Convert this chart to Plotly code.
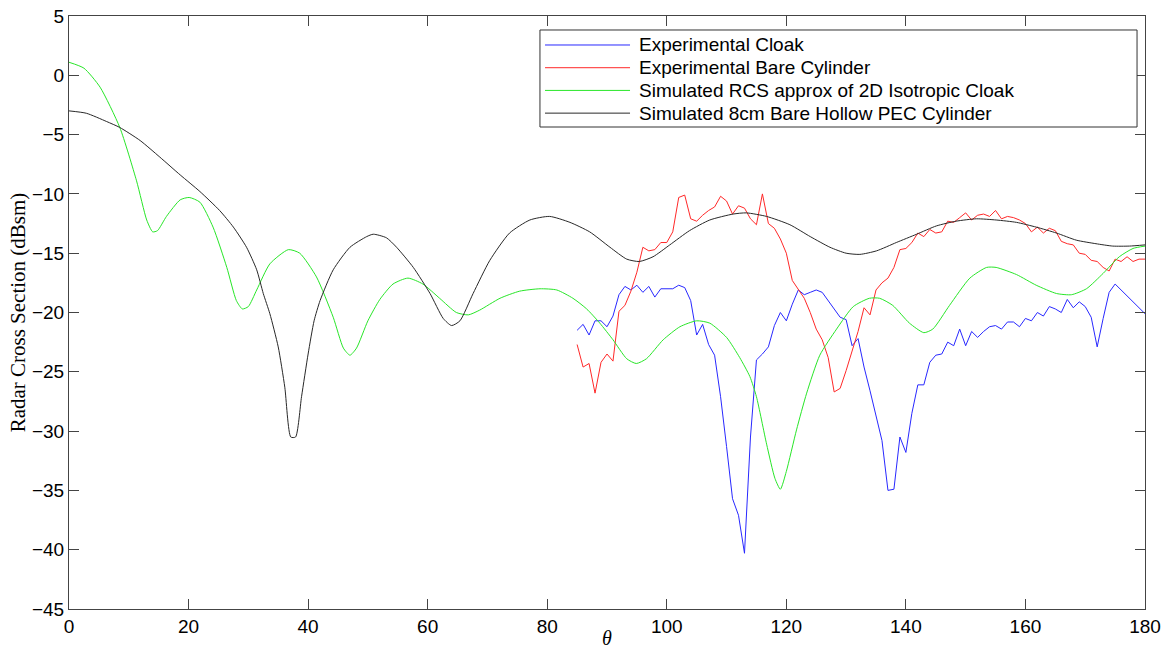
import plotly.graph_objects as go

# ---------------- data ----------------
exp_theta = list(range(85, 181))

exp_bare = [-22.7, -24.6, -24.3, -26.8, -24.2, -23.5, -24.1, -19.9, -19.4, -18.2,
            -16.6, -14.5, -14.8, -14.7, -14.1, -14.1, -13.2, -10.3, -10.1, -12.1,
            -12.3, -11.8, -11.4, -11.1, -10.2, -10.6, -11.7, -11.0, -11.2, -12.1,
            -12.6, -10.0, -12.5, -12.9, -13.8, -15.0, -17.3, -18.0, -18.8, -20.0,
            -21.4, -22.3, -23.8, -26.7, -26.4, -24.9, -23.3, -21.6, -19.6, -20.2,
            -18.1, -17.5, -17.1, -16.2, -14.7, -14.6, -14.1, -13.3, -13.6, -13.0,
            -13.3, -13.2, -12.3, -12.4, -12.0, -11.6, -12.2, -11.8, -11.7, -11.9,
            -11.4, -12.1, -11.9, -12.0, -12.2, -12.5, -13.2, -12.8, -13.3, -12.9,
            -13.1, -14.0, -14.2, -14.3, -15.0, -15.1, -15.6, -15.7, -16.2, -16.5,
            -15.5, -15.7, -15.3, -15.7, -15.5, -15.5]

cloak_theta = list(range(85, 177)) + [180]
exp_cloak = [-21.5, -21.0, -21.9, -20.7, -20.7, -21.2, -20.3, -18.5, -17.8, -18.1,
             -17.7, -18.3, -17.8, -18.7, -18.0, -18.0, -18.0, -17.7, -17.9, -19.0,
             -21.9, -21.0, -22.7, -23.6, -27.1, -31.3, -35.7, -37.1, -40.3, -30.5,
             -24.0, -23.5, -22.9, -21.1, -20.0, -20.7, -19.3, -18.1, -18.5, -18.3,
             -18.1, -18.3, -19.0, -19.7, -20.4, -20.6, -22.8, -22.2, -24.6, -26.6,
             -28.8, -30.8, -35.0, -34.9, -30.5, -31.8, -28.5, -26.1, -26.1, -24.2,
             -23.6, -23.5, -22.5, -22.8, -21.4, -22.8, -21.6, -22.1, -21.6, -21.2,
             -21.1, -21.4, -20.8, -20.8, -21.2, -20.5, -20.7, -20.0, -20.3, -19.5,
             -19.7, -20.0, -18.9, -19.6, -19.1, -19.5, -20.4, -22.9, -20.5, -18.3,
             -17.6, -18.1, -20.1]

sim_cloak_theta = [0, 2.5, 5.2, 8.5, 11.3, 13, 14, 14.8, 16.3, 18.6, 20.1, 21.9, 24.1,
                   26.4, 28, 29, 30, 31.4, 33.6, 36.7, 38.6, 41.4, 44.2, 45.9, 47, 48.1,
                   50, 52, 54.2, 56.7, 59.2, 62, 64.8, 66.8, 68.7, 72.1, 75.4, 78.8,
                   81.6, 84.3, 86.6, 88.8, 91, 93.3, 94.9, 96.6, 99.4, 102.2, 105,
                   107.2, 110, 112.2, 113.9, 115, 116.7, 118.1, 119, 120, 121.7, 123.4,
                   125.6, 128.4, 131.2, 133.9, 135.6, 137.8, 140.6, 143, 144.5, 147.3,
                   150.7, 153.5, 155.1, 158.5, 161.8, 165.2, 167.7, 170.2, 173, 175.7,
                   178, 180]
sim_cloak = [1.1, 0.6, -1.0, -4.4, -8.9, -12.2, -13.2, -13.1, -11.9, -10.5, -10.3, -10.7,
             -12.8, -16.2, -19.0, -19.7, -19.5, -18.1, -15.9, -14.7, -15.0, -17.0, -20.4,
             -23.0, -23.6, -23.0, -20.7, -18.9, -17.6, -17.1, -17.6, -18.8, -20.0, -20.2,
             -19.8, -18.8, -18.2, -18.0, -18.1, -18.8, -19.7, -20.9, -22.3, -23.9, -24.3,
             -23.9, -22.3, -21.2, -20.7, -20.9, -22.1, -23.8, -25.4, -27.1, -31.1, -34.0,
             -34.9, -33.4, -29.9, -26.8, -23.6, -21.4, -19.5, -18.8, -18.8, -19.4, -20.9,
             -21.7, -21.4, -19.4, -17.1, -16.2, -16.2, -16.8, -17.7, -18.4, -18.5, -18.0,
             -16.7, -15.3, -14.6, -14.4]

sim_pec_theta = [0, 2.9, 6.3, 8.5, 11.9, 15.2, 18.6, 21.9, 25.2, 27.5, 29.7, 31.4, 32.5,
                 33.6, 35, 36.1, 37.1, 37.9, 38.9, 40, 41, 42, 44.2, 47, 49.8, 50.9,
                 53.1, 54.8, 57.6, 60.4, 62.6, 64, 65.4, 67.6, 70.4, 73.7, 77.1, 80.4,
                 83.8, 87.1, 90.5, 93.3, 95.4, 97.7, 100.5, 103.8, 107.2, 111.1, 113.3,
                 116.7, 120.6, 124, 127.3, 130, 132.3, 135.1, 138.4, 141.8, 145.1,
                 148.4, 151.8, 155.1, 158.5, 161.8, 165.2, 168.5, 171.8, 174.6, 177.4, 180]
sim_pec = [-3.0, -3.2, -3.9, -4.4, -5.5, -6.9, -8.4, -9.8, -11.4, -12.8, -14.5, -16.4,
           -18.4, -20.1, -22.9, -26.3, -30.5, -30.5, -27.1, -23.5, -20.7, -19.0, -16.4,
           -14.5, -13.6, -13.4, -13.7, -14.5, -16.2, -18.4, -20.5, -21.1, -20.7, -18.4,
           -15.6, -13.3, -12.2, -11.9, -12.4, -13.2, -14.5, -15.5, -15.7, -15.3, -14.3,
           -13.1, -12.2, -11.7, -11.6, -11.9, -12.6, -13.6, -14.5, -15.0, -15.1, -14.8,
           -14.1, -13.4, -12.7, -12.3, -12.1, -12.2, -12.4, -12.8, -13.3, -13.9, -14.2,
           -14.4, -14.4, -14.3]

series_names = ["Experimental Cloak", "Experimental Bare Cylinder",
                "Simulated RCS approx of 2D Isotropic Cloak",
                "Simulated 8cm Bare Hollow PEC Cylinder"]
series_colors = ["rgb(40,40,255)", "rgb(255,40,40)", "rgb(40,230,40)", "rgb(40,40,40)"]

x_ticks = [0, 20, 40, 60, 80, 100, 120, 140, 160, 180]
y_ticks = [5, 0, -5, -10, -15, -20, -25, -30, -35, -40, -45]

# ---------------- figure ----------------
fig = go.Figure()
series = [(cloak_theta, exp_cloak, "linear"), (exp_theta, exp_bare, "linear"),
          (sim_cloak_theta, sim_cloak, "spline"), (sim_pec_theta, sim_pec, "spline")]
for (xs, ys, shp), name, col in zip(series, series_names, series_colors):
    line = dict(color=col, width=1, shape=shp)
    if shp == "spline":
        line["smoothing"] = 0.6
    fig.add_trace(go.Scatter(x=xs, y=ys, mode="lines", name=name, line=line,
                             showlegend=False))

axis_common = dict(
    showgrid=False, zeroline=False, showline=True, linecolor="#444", linewidth=1,
    mirror="allticks", ticks="inside", ticklen=10, tickcolor="#444", tickwidth=1,
    automargin=False, ticklabeloverflow="allow",
    tickfont=dict(family="Liberation Sans, Arial, sans-serif", size=19, color="black"),
)

fig.update_xaxes(range=[0, 180], tickmode="array", tickvals=x_ticks, **axis_common)
fig.update_yaxes(range=[-45, 5], tickmode="array", tickvals=y_ticks,
                 title=dict(text="Radar Cross Section (dBsm)", standoff=0,
                            font=dict(family="Liberation Serif, serif", size=21, color="black")),
                 **axis_common)

# x-axis title (theta)
annotations = [dict(text="<i>θ</i>", xref="paper", yref="paper", x=0.5, y=-0.049,
                    xanchor="center", yanchor="middle", showarrow=False,
                    font=dict(family="Liberation Serif, serif", size=20, color="black"))]

# legend box (MATLAB style, tight rows)
leg_x0, leg_x1, leg_y0, leg_y1 = 0.4377, 0.9926, 0.8128, 0.9764
line_x0, line_x1, text_x = 0.4424, 0.5214, 0.5279
row_top, row_step = 0.9511, 0.0383
shapes = [dict(type="rect", xref="paper", yref="paper",
               x0=leg_x0, x1=leg_x1, y0=leg_y0, y1=leg_y1,
               line=dict(color="#333", width=1), fillcolor="white", layer="above")]
for i, (name, col) in enumerate(zip(series_names, series_colors)):
    yy = row_top - i * row_step
    shapes.append(dict(type="line", xref="paper", yref="paper",
                       x0=line_x0, x1=line_x1, y0=yy, y1=yy,
                       line=dict(color=col, width=1), layer="above"))
    annotations.append(dict(text=name, xref="paper", yref="paper", x=text_x, y=yy,
                            xanchor="left", yanchor="middle", showarrow=False,
                            font=dict(family="Liberation Sans, Arial, sans-serif",
                                      size=19, color="black")))

fig.update_layout(
    width=1171, height=649, autosize=False,
    margin=dict(l=69, r=26, t=16, b=40),
    paper_bgcolor="white", plot_bgcolor="white",
    showlegend=False,
    shapes=shapes,
    annotations=annotations,
)

# remove the default 8px page margin so the figure fills the window exactly
fig.write_html("out.html",
               config={"displayModeBar": False, "staticPlot": True},
               post_script="document.body.style.margin='0';document.body.style.overflow='hidden';")
